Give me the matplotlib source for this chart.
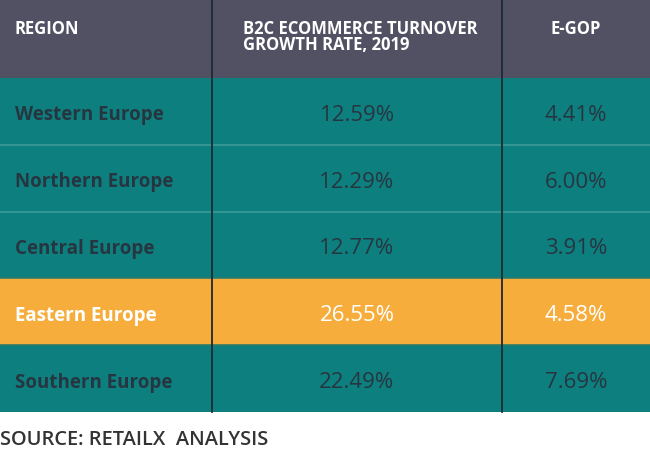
import matplotlib.pyplot as plt
from matplotlib.patches import Rectangle

# Table data
regions = ["Western Europe", "Northern Europe", "Central Europe", "Eastern Europe", "Southern Europe"]
growth = [12.59, 12.29, 12.77, 26.55, 22.49]
egop = [4.41, 6.00, 3.91, 4.58, 7.69]
highlight = "Eastern Europe"
headers = ["REGION", "B2C ECOMMERCE TURNOVER\nGROWTH RATE, 2019", "E-GOP"]
source = "SOURCE: RETAILX  ANALYSIS"

HEADER_BG = "#525163"
TEAL = "#0e7f7f"
ORANGE = "#f6ad3c"
DARK_TEXT = "#263640"

plt.rcParams["font.family"] = ["Open Sans", "DejaVu Sans"]

fig = plt.figure(figsize=(6.5, 4.59), dpi=100)
ax = fig.add_axes([0, 0, 1, 1])
ax.set_xlim(0, 650)
ax.set_ylim(459, 0)
ax.axis("off")

# column layout (pixels)
col_edges = [0, 212, 502, 650]
header_h = 78
row_h = 66.8

# header
ax.add_patch(Rectangle((0, 0), 650, header_h, color=HEADER_BG, lw=0))
ax.text(14, 29, headers[0], color="white", fontsize=12, fontweight="bold",
        va="center", ha="left")
ax.text(243, 37, headers[1], color="white", fontsize=12, fontweight="bold",
        va="center", ha="left", linespacing=0.92)
ax.text(576, 29, headers[2], color="white", fontsize=12, fontweight="bold",
        va="center", ha="center")

# rows
for i, (reg, g, e) in enumerate(zip(regions, growth, egop)):
    y0 = header_h + i * row_h
    hl = reg == highlight
    bg = ORANGE if hl else TEAL
    fg = "white" if hl else DARK_TEXT
    ax.add_patch(Rectangle((0, y0), 650, row_h, color=bg, lw=0))
    if i > 0:
        line_c = "#3e9a96" if not (hl or regions[i - 1] == highlight) else "#2f7c68"
        ax.plot([0, 650], [y0, y0], color=line_c, lw=1.2)
    yc = y0 + row_h / 2 + 4
    ax.text(15, yc, reg, color=fg, fontsize=13.5, fontweight="bold", va="center", ha="left")
    ax.text(357, yc, f"{g:.2f}%", color=fg, fontsize=16, fontweight="normal",
            va="center", ha="center")
    ax.text(576, yc, f"{e:.2f}%", color=fg, fontsize=16, fontweight="normal",
            va="center", ha="center")

table_bottom = header_h + len(regions) * row_h

# vertical dividers
for x in col_edges[1:3]:
    ax.plot([x, x], [0, table_bottom], color="#1c2a33", lw=1.3)

# source note
ax.text(0, 440, source, color="#333333", fontsize=14.4, fontweight="semibold",
        va="center", ha="left")

fig.savefig("out.png", dpi=100)
